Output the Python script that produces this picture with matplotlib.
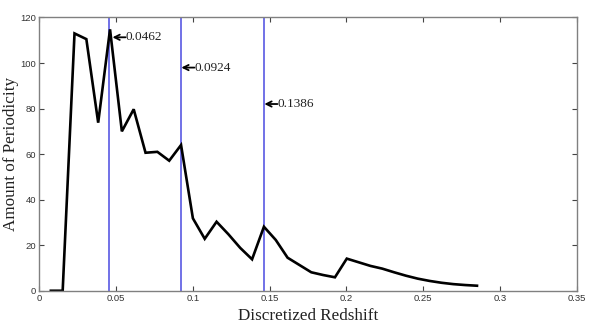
import matplotlib
matplotlib.use("Agg")
import matplotlib.pyplot as plt

# Data
redshift = [0.0077, 0.0154, 0.0231, 0.0308, 0.0385, 0.0462, 0.0539, 0.0616,
            0.0693, 0.0770, 0.0847, 0.0924, 0.1001, 0.1078, 0.1155, 0.1232,
            0.1309, 0.1386, 0.1463, 0.1540, 0.1617, 0.1694, 0.1771, 0.1848,
            0.1925, 0.2002, 0.2079, 0.2156, 0.2233, 0.2310, 0.2387, 0.2464,
            0.2541, 0.2618, 0.2695, 0.2772, 0.2849]
periodicity = [0, 0, 113, 110.5, 73.8, 114.8, 70, 79.7,
               60.6, 61, 57.1, 64, 31.8, 22.8, 30.3, 24.8,
               18.8, 13.8, 28.1, 22.3, 14.5, 11.3, 8.1, 6.9,
               5.9, 14.1, 12.5, 10.9, 9.7, 8.1, 6.6, 5.3,
               4.3, 3.5, 2.9, 2.5, 2.2]

line_pos = [0.0458, 0.0924, 0.1463]
line_labels = ["0.0462", "0.0924", "0.1386"]
label_y = [111.3, 98.0, 82.0]
arrow_tip = [0.0478, 0.0926, 0.1466]

xticks = [0, 0.05, 0.1, 0.15, 0.2, 0.25, 0.3, 0.35]
xtick_labels = ["0", "0.05", "0.1", "0.15", "0.2", "0.25", "0.3", "0.35"]
yticks = [0, 20, 40, 60, 80, 100, 120]

fig = plt.figure(figsize=(5.9, 3.3), dpi=100)
ax = fig.add_axes([0.0661, 0.119, 0.912, 0.828])

for xp in line_pos:
    ax.axvline(xp, color="#4a4ae0", lw=1.1, zorder=1)

ax.plot(redshift, periodicity, color="black", lw=1.9, zorder=2,
        solid_joinstyle="miter")

serif = ["Liberation Serif", "DejaVu Serif"]
for tip, lab, yv in zip(arrow_tip, line_labels, label_y):
    ax.annotate(lab, xy=(tip, yv), xytext=(tip + 0.0085, yv),
                family=serif, fontsize=9.5, ha="left", va="center",
                color="#222222", zorder=3,
                arrowprops=dict(arrowstyle="->,head_length=0.4,head_width=0.2",
                                lw=1.3, color="black", shrinkA=0, shrinkB=0,
                                relpos=(0.0, 0.5), patchA=None))

ax.set_xlim(0, 0.35)
ax.set_ylim(0, 120)
ax.set_xticks(xticks)
ax.set_xticklabels(xtick_labels)
ax.set_yticks(yticks)

ax.tick_params(direction="in", length=3.5, width=0.8, top=True, right=True,
               labelsize=6.8, labelcolor="#333333", color="#444444", pad=2)
for lab in ax.get_xticklabels() + ax.get_yticklabels():
    lab.set_family(["Liberation Sans", "DejaVu Sans"])

for sp in ax.spines.values():
    sp.set_color("#808080")
    sp.set_linewidth(1.0)

ax.set_xlabel("Discretized Redshift", family=serif, fontsize=12.3,
              color="#222222", labelpad=4)
ax.set_ylabel("Amount of Periodicity", family=serif, fontsize=12.3,
              color="#222222", labelpad=1)

fig.savefig("out.png", dpi=100)
